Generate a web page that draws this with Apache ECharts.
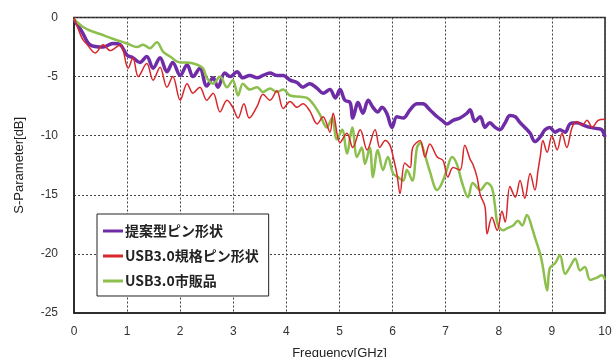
<!DOCTYPE html>
<html>
<head>
<meta charset="utf-8">
<script src="https://cdn.jsdelivr.net/npm/echarts@6/dist/echarts.min.js"></script>
<style>
html,body{margin:0;padding:0;background:#fff;}
#chart{width:612px;height:357px;}
</style>
</head>
<body>
<div id="chart"></div>
<script>
const seriesNames = ['提案型ピン形状', 'USB3.0規格ピン形状', 'USB3.0市販品'];
const xTicks = [0,1,2,3,4,5,6,7,8,9,10];
const yTicks = [0,-5,-10,-15,-20,-25];

// [GHz, dB]
const proposed = [
[0,-0.2],[0.15,-1.2],[0.3,-2.3],[0.55,-2.5],[0.73,-2.2],[0.87,-2.3],[1.0,-3.2],[1.11,-3.4],[1.24,-3.8],[1.37,-3.3],
[1.49,-4.3],[1.62,-3.4],[1.75,-4.6],[1.86,-3.8],[2.0,-4.9],[2.13,-4.0],[2.24,-5.0],[2.37,-4.3],[2.50,-5.8],[2.62,-5.1],
[2.71,-5.9],[2.84,-4.7],[2.94,-5.0],[3.07,-4.6],[3.18,-5.1],[3.31,-4.9],[3.45,-5.1],[3.56,-4.9],[3.69,-4.7],[3.82,-4.9],
[3.94,-4.9],[4.07,-5.3],[4.20,-5.5],[4.31,-5.9],[4.44,-5.6],[4.58,-6.0],[4.69,-6.4],[4.82,-6.1],[4.92,-6.8],[5.01,-6.1],
[5.10,-7.0],[5.20,-7.2],[5.25,-8.5],[5.35,-7.2],[5.44,-8.1],[5.54,-7.0],[5.63,-7.6],[5.72,-8.0],[5.80,-7.6],[5.89,-8.1],
[5.99,-9.3],[6.08,-8.4],[6.20,-8.5],[6.33,-7.8],[6.46,-7.3],[6.57,-7.3],[6.70,-7.8],[6.84,-8.4],[6.93,-8.7],[7.02,-9.0],
[7.14,-8.7],[7.27,-8.5],[7.40,-8.1],[7.46,-7.8],[7.55,-8.8],[7.65,-8.4],[7.74,-9.3],[7.83,-8.9],[7.93,-9.3],[8.02,-9.5],
[8.12,-8.9],[8.21,-8.3],[8.31,-8.4],[8.40,-8.9],[8.49,-9.3],[8.59,-9.8],[8.68,-10.5],[8.78,-10.1],[8.87,-9.5],[8.96,-9.3],
[9.06,-9.7],[9.15,-9.5],[9.25,-9.7],[9.34,-9.0],[9.47,-8.9],[9.59,-9.1],[9.72,-9.3],[9.85,-9.4],[9.94,-9.5],[10.0,-10.1]
];

const usbSpec = [
[0,0],[0.1,-1.2],[0.17,-1.9],[0.25,-2.3],[0.40,-3.0],[0.55,-2.3],[0.68,-2.8],[0.87,-2.3],[1.02,-4.3],[1.11,-3.4],
[1.21,-5.0],[1.37,-3.9],[1.49,-5.3],[1.62,-4.2],[1.75,-5.9],[1.86,-5.0],[2.0,-7.0],[2.13,-5.6],[2.24,-6.4],[2.37,-5.9],
[2.50,-7.0],[2.62,-6.4],[2.75,-8.0],[2.88,-7.0],[2.99,-7.6],[3.09,-8.5],[3.20,-7.3],[3.30,-8.5],[3.45,-7.5],[3.56,-6.5],
[3.69,-7.0],[3.82,-6.2],[3.94,-7.7],[4.07,-7.1],[4.20,-7.6],[4.31,-7.3],[4.44,-7.9],[4.58,-9.0],[4.69,-8.4],[4.82,-9.7],
[4.88,-8.1],[5.01,-10.6],[5.14,-9.8],[5.25,-11.0],[5.39,-9.5],[5.52,-11.2],[5.67,-9.5],[5.76,-11.0],[5.86,-10.4],[5.95,-10.8],
[6.01,-11.8],[6.08,-13.2],[6.14,-14.9],[6.23,-12.3],[6.33,-12.7],[6.38,-11.0],[6.52,-10.4],[6.61,-11.8],[6.70,-10.7],[6.84,-11.8],
[6.95,-12.1],[7.04,-13.5],[7.14,-12.7],[7.27,-12.9],[7.36,-10.8],[7.46,-12.0],[7.51,-12.4],[7.59,-13.5],[7.65,-15.0],[7.74,-16.0],
[7.78,-18.3],[7.87,-16.9],[7.97,-18.0],[8.06,-16.4],[8.12,-17.3],[8.21,-14.3],[8.31,-15.2],[8.40,-13.8],[8.49,-15.3],[8.59,-13.2],
[8.68,-14.6],[8.74,-12.9],[8.78,-11.8],[8.83,-10.4],[8.91,-11.4],[9.00,-10.0],[9.10,-11.2],[9.19,-9.8],[9.28,-11.0],[9.38,-9.3],
[9.47,-8.8],[9.57,-9.1],[9.66,-8.7],[9.76,-9.3],[9.87,-8.7],[10.0,-8.6]
];

const usbRetail = [
[0,-0.1],[0.06,-0.4],[0.17,-0.8],[0.30,-1.1],[0.49,-1.4],[0.73,-1.8],[1.0,-2.2],[1.19,-2.5],[1.30,-2.3],[1.43,-2.6],
[1.56,-2.1],[1.68,-2.9],[1.81,-3.3],[2.0,-3.8],[2.13,-3.8],[2.32,-4.0],[2.43,-4.3],[2.50,-5.1],[2.62,-5.6],[2.75,-5.0],
[2.88,-5.9],[2.99,-5.3],[3.09,-6.6],[3.18,-5.6],[3.31,-6.1],[3.45,-5.9],[3.56,-6.3],[3.69,-6.0],[3.82,-6.3],[3.94,-6.1],
[4.07,-6.6],[4.26,-6.7],[4.39,-6.8],[4.50,-7.3],[4.63,-8.2],[4.76,-9.3],[4.86,-8.5],[4.95,-10.3],[5.05,-9.5],[5.14,-11.5],
[5.24,-9.3],[5.33,-11.8],[5.42,-11.0],[5.48,-12.4],[5.57,-11.0],[5.63,-13.5],[5.72,-11.2],[5.82,-12.9],[5.91,-11.8],[6.01,-13.2],
[6.10,-13.5],[6.20,-13.8],[6.27,-12.9],[6.37,-13.8],[6.46,-11.0],[6.52,-10.6],[6.60,-11.5],[6.70,-13.0],[6.84,-14.6],[6.93,-14.0],
[7.02,-12.9],[7.12,-11.8],[7.21,-12.4],[7.31,-14.0],[7.42,-15.2],[7.51,-14.0],[7.65,-14.6],[7.78,-14.0],[7.87,-14.4],[7.93,-16.0],
[7.98,-17.5],[8.08,-18.0],[8.17,-17.8],[8.27,-17.6],[8.36,-17.2],[8.44,-17.6],[8.53,-16.7],[8.64,-18.0],[8.68,-18.6],[8.78,-20.0],
[8.83,-21.1],[8.91,-23.1],[8.96,-21.2],[9.06,-20.8],[9.15,-20.1],[9.25,-21.7],[9.34,-21.1],[9.44,-20.4],[9.53,-21.4],[9.62,-21.1],
[9.72,-22.2],[9.85,-22.0],[9.94,-21.8],[10.0,-22.2]
];

const chart = echarts.init(document.getElementById('chart'), null, {renderer:'canvas'});
const font = '"Liberation Sans", Arial, sans-serif';
const colors = ['#6E2DA6', '#D8262A', '#8DBF4E'];

chart.setOption({
  animation: false,
  backgroundColor: '#fff',
  textStyle: {fontFamily: font},
  grid: {left: 74, right: 7, top: 17.5, bottom: 44, outerBoundsMode: 'none', containLabel: false,
         show: true, borderColor: '#222', borderWidth: 1.5, backgroundColor: 'transparent'},
  legend: {
    orient: 'vertical', left: 97, top: 214,
    data: [seriesNames[0], seriesNames[1], seriesNames[2]],
    backgroundColor: '#fff', borderColor: '#222', borderWidth: 1,
    padding: [10, 10, 8, 6], itemGap: 11, itemWidth: 20, itemHeight: 3,
    icon: 'rect',
    textStyle: {fontSize: 14, fontWeight: 'bold', color: '#222', fontFamily: '"Noto Sans CJK JP", ' + font, padding: [0,0,0,-3]}
  },
  xAxis: {
    type: 'value', min: xTicks[0], max: xTicks[xTicks.length-1], interval: 1,
    name: 'Frequency[GHz]', nameLocation: 'middle', nameGap: 34,
    nameTextStyle: {fontSize: 13, color: '#222', fontFamily: font},
    axisLine: {show: true, onZero: false, lineStyle: {color: '#222', width: 1.5}},
    axisTick: {show: false},
    axisLabel: {fontSize: 12, color: '#333', margin: 13, fontFamily: font},
    splitLine: {show: true, lineStyle: {type: [2, 2], color: '#444', width: 1}}
  },
  yAxis: {
    type: 'value', min: yTicks[yTicks.length-1], max: yTicks[0], interval: 5,
    name: 'S-Parameter[dB]', nameLocation: 'middle', nameGap: 48,
    nameTextStyle: {fontSize: 13, color: '#222', fontFamily: font},
    axisLine: {show: true, lineStyle: {color: '#222', width: 1.5}},
    axisTick: {show: false},
    axisLabel: {fontSize: 12, color: '#333', margin: 16, fontFamily: font},
    splitLine: {show: true, lineStyle: {type: [2, 2], color: '#444', width: 1}}
  },
  series: [
    {name: seriesNames[0], type: 'line', data: proposed, showSymbol: false, smooth: 0.35, z: 2,
     lineStyle: {color: colors[0], width: 3.5}, itemStyle: {color: colors[0]}},
    {name: seriesNames[2], type: 'line', data: usbRetail, showSymbol: false, smooth: 0.35, z: 3,
     lineStyle: {color: colors[2], width: 2.5}, itemStyle: {color: colors[2]}},
    {name: seriesNames[1], type: 'line', data: usbSpec, showSymbol: false, smooth: 0.35, z: 4,
     lineStyle: {color: colors[1], width: 1.5}, itemStyle: {color: colors[1]}}
  ]
});
</script>
</body>
</html>
